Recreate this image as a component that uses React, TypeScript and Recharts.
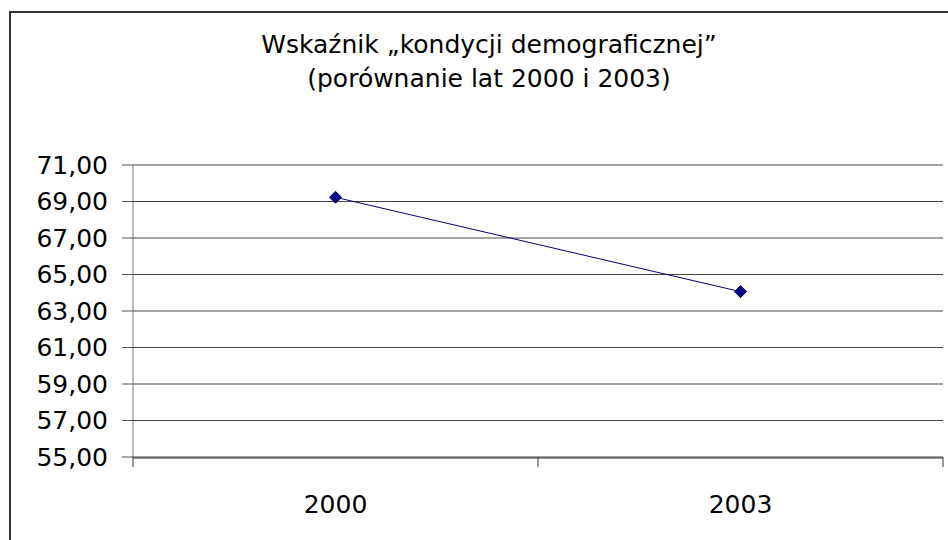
import React from "react";
import { LineChart, Line, XAxis, YAxis, CartesianGrid } from "recharts";

const years = ["2000", "2003"];
const values = [69.23, 64.06];
const yTicks = [55, 57, 59, 61, 63, 65, 67, 69, 71];
const titleLines = ["Wskaźnik „kondycji demograficznej”", "(porównanie lat 2000 i 2003)"];

const data = years.map((y, i) => ({ year: y, pos: i + 0.5, value: values[i] }));

const FONT = "'DejaVu Sans', sans-serif";

const Diamond = (props: any) => {
  const { cx, cy } = props;
  if (cx == null || cy == null) return null;
  const r = 6;
  return (
    <path
      d={`M${cx},${cy - r}L${cx + r},${cy}L${cx},${cy + r}L${cx - r},${cy}Z`}
      fill="#000080"
      stroke="#000080"
    />
  );
};

// boundary ticks only, no labels
const NoLabel = () => <g />;

export default function App() {
  return (
    <div
      style={{
        position: "absolute",
        left: 0,
        top: 0,
        width: 948,
        height: 540,
        overflow: "hidden",
        background: "#fff",
        fontFamily: FONT,
      }}
    >
      <div
        style={{
          position: "absolute",
          left: 9,
          top: 11,
          width: 1000,
          height: 600,
          border: "2px solid #333",
          boxSizing: "border-box",
        }}
      />
      <div
        style={{
          position: "absolute",
          left: 0,
          top: 28,
          width: 978,
          textAlign: "center",
          fontSize: 25,
          lineHeight: "34px",
          color: "#000",
        }}
      >
        {titleLines.map((t) => (
          <div key={t}>{t}</div>
        ))}
      </div>
      <LineChart
        width={948}
        height={540}
        data={data}
        margin={{ top: 165, right: 5, bottom: 0, left: 0 }}
        style={{ position: "absolute", left: 0, top: 0 }}
      >
        <CartesianGrid vertical={false} stroke="#444" xAxisId="lab" />
        <XAxis
          type="number"
          dataKey="pos"
          domain={[0, 2]}
          ticks={[0, 1, 2]}
          interval={0}
          tick={<NoLabel />}
          tickSize={10}
          axisLine={false}
          tickLine={{ stroke: "#333" }}
          height={1}
        />
        <XAxis
          xAxisId="lab"
          dataKey="year"
          scale="band"
          height={82}
          tickLine={false}
          axisLine={{ stroke: "#333" }}
          tick={{ fontSize: 25, fill: "#000", fontFamily: FONT, dy: 29 }}
          interval={0}
        />
        <YAxis
          width={133}
          domain={[55, 71]}
          ticks={yTicks}
          interval={0}
          tickSize={11}
          tickMargin={14}
          axisLine={{ stroke: "#777" }}
          tickLine={{ stroke: "#555" }}
          tickFormatter={(v: number) => v.toFixed(2).replace(".", ",")}
          tick={{ fontSize: 25, fill: "#000", fontFamily: FONT }}
        />
        <Line
          xAxisId="lab"
          type="linear"
          dataKey="value"
          stroke="#000080"
          strokeWidth={1}
          dot={<Diamond />}
          activeDot={false}
          isAnimationActive={false}
        />
      </LineChart>
    </div>
  );
}
